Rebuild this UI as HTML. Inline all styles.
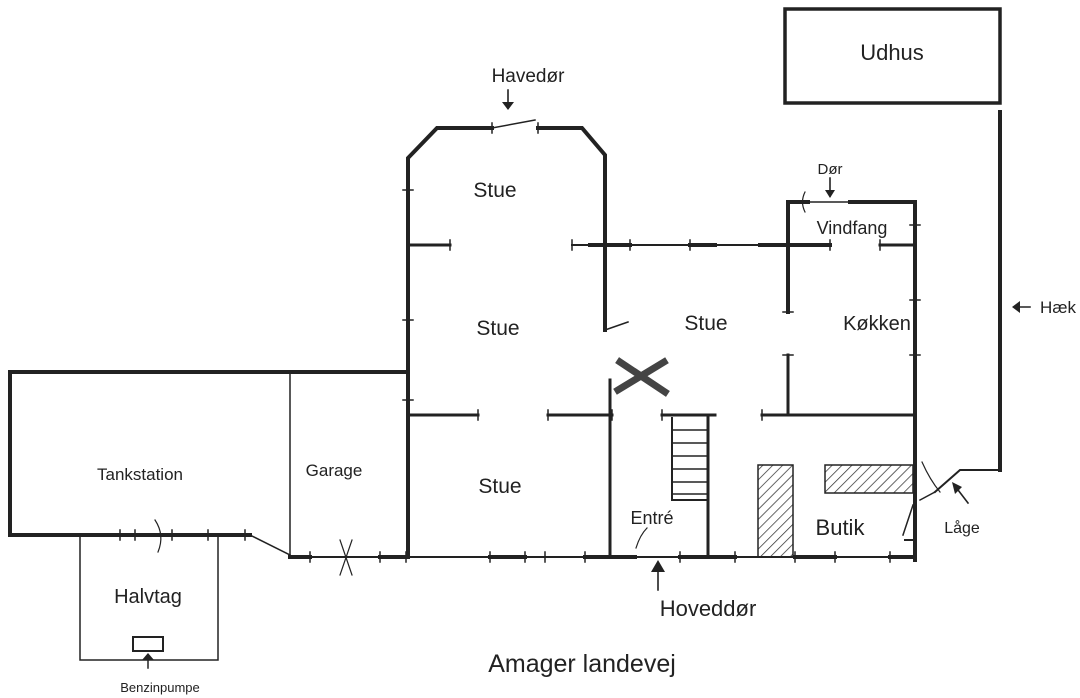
<!DOCTYPE html>
<html><head><meta charset="utf-8"><style>
html,body{margin:0;padding:0;background:#fff;}
svg{display:block}
text{font-family:"Liberation Sans",sans-serif;fill:#222;}
</style></head><body>
<svg width="1080" height="698" viewBox="0 0 1080 698" xmlns="http://www.w3.org/2000/svg">
<defs>
<pattern id="h" width="7" height="7" patternUnits="userSpaceOnUse" patternTransform="rotate(45)">
<line x1="0" y1="0" x2="0" y2="7" stroke="#333" stroke-width="1.5"/></pattern>
</defs>
<rect width="1080" height="698" fill="#fff"/>
<g stroke="#222" fill="none" stroke-linecap="square">
<rect x="785" y="9" width="215" height="94" stroke-width="3.5"/>
<path d="M1000 112 L1000 470" stroke-width="4" stroke-dasharray="4 2"/>
<path d="M1000 470 L960 470 L935 492" stroke-width="2"/>
<path d="M935 492 L920 500" stroke-width="1.5"/>
<path d="M922 462 Q930 480 940 492" stroke-width="1.2"/>
<path d="M408 557 L408 158 L437 128 L492 128" stroke-width="4"/>
<path d="M492 128 L535 120" stroke-width="1.5"/>
<path d="M538 128 L582 128 L605 155 L605 330" stroke-width="4"/>
<path d="M605 330 L628 322" stroke-width="1.5"/>
<path d="M572 245 L830 245" stroke-width="2"/>
<path d="M590 245 L630 245 M690 245 L715 245 M760 245 L830 245" stroke-width="4"/>
<path d="M880 245 L915 245" stroke-width="3"/>
<path d="M788 312 L788 202 L808 202 M850 202 L915 202 L915 560" stroke-width="4"/>
<path d="M808 202 L850 202" stroke-width="1.5"/>
<path d="M788 355 L788 415" stroke-width="3"/>
<path d="M408 245 L450 245" stroke-width="3"/>
<path d="M408 415 L478 415 M548 415 L612 415" stroke-width="3"/>
<path d="M662 415 L715 415 M762 415 L915 415" stroke-width="3"/>
<path d="M610 380 L610 557" stroke-width="3"/>
<path d="M708 415 L708 557" stroke-width="3"/>
<path d="M672 418 L672 500 L708 500" stroke-width="2"/>
<path d="M672 430 H708 M672 443 H708 M672 456 H708 M672 469 H708 M672 482 H708 M672 494 H708" stroke-width="1.5"/>
<path d="M290 557 L915 557" stroke-width="2"/>
<path d="M290 557 L310 557 M380 557 L408 557 M490 557 L525 557 M585 557 L635 557 M680 557 L735 557 M795 557 L835 557 M890 557 L915 557" stroke-width="4"/>
<path d="M915 540 L915 560" stroke-width="4"/>
<path d="M905 540 L915 540" stroke-width="2"/>
<path d="M903 535 L913 505" stroke-width="1.5"/>
<path d="M636 548 Q640 535 647 528" stroke-width="1.2"/>
<path d="M620 362 L665 392 M618 390 L664 362" stroke-width="7" stroke="#444"/>
<rect x="758" y="465" width="35" height="92" fill="url(#h)" stroke-width="1.5"/>
<rect x="825" y="465" width="88" height="28" fill="url(#h)" stroke-width="1.5"/>
<path d="M250 535 L10 535 L10 372 L408 372" stroke-width="4"/>
<path d="M250 535 L290 555" stroke-width="1.5"/>
<path d="M290 372 L290 557" stroke-width="1.5"/>
<path d="M155 520 Q165 535 158 552" stroke-width="1.2"/>
<path d="M340 540 L352 575 M352 540 L340 575" stroke-width="1.2"/>
<rect x="80" y="535" width="138" height="125" stroke-width="1.5"/>
<rect x="133" y="637" width="30" height="14" stroke-width="2"/>
<path d="M148 668 L148 655" stroke-width="1.5"/>
<path d="M120 530 V540 M135 530 V540 M172 530 V540 M208 530 V540 M245 530 V540 M310 552 V562 M380 552 V562 M406 552 V562 M490 552 V562 M525 552 V562 M545 552 V562 M585 552 V562 M680 552 V562 M735 552 V562 M795 552 V562 M835 552 V562 M890 552 V562 M450 240 V250 M572 240 V250 M630 240 V250 M690 240 V250 M830 240 V250 M880 240 V250 M478 410 V420 M548 410 V420 M612 410 V420 M662 410 V420 M762 410 V420 M783 312 H793 M783 355 H793 M910 225 H920 M910 300 H920 M910 355 H920 M403 190 H413 M403 320 H413 M403 400 H413 M492 123 V133 M538 123 V133" stroke-width="1.5"/>
<path d="M805 192 Q800 202 805 212" stroke-width="1.2"/>
<path d="M508 90 V108 M830 178 V196 M658 590 V568 M1030 307 H1015 M968 503 L955 486" stroke-width="1.6"/>
</g>
<g fill="#222">
<polygon points="502,102 514,102 508,110"/>
<polygon points="825,190 835,190 830,198"/>
<polygon points="651,572 665,572 658,560"/>
<polygon points="1020,301 1020,313 1012,307"/>
<polygon points="142,660 154,660 148,653"/>
<polygon points="952,482 962,487 955,494"/>
</g>
<text x="528" y="82" font-size="19" text-anchor="middle">Havedør</text>
<text x="892" y="60" font-size="22" text-anchor="middle">Udhus</text>
<text x="495" y="197" font-size="21" text-anchor="middle">Stue</text>
<text x="498" y="335" font-size="21" text-anchor="middle" fill="#555">Stue</text>
<text x="706" y="330" font-size="21" text-anchor="middle">Stue</text>
<text x="877" y="330" font-size="20" text-anchor="middle">Køkken</text>
<text x="830" y="174" font-size="15" text-anchor="middle">Dør</text>
<text x="852" y="234" font-size="18" text-anchor="middle">Vindfang</text>
<text x="500" y="493" font-size="21" text-anchor="middle" fill="#555">Stue</text>
<text x="652" y="524" font-size="18" text-anchor="middle">Entré</text>
<text x="840" y="535" font-size="22" text-anchor="middle">Butik</text>
<text x="962" y="533" font-size="16" text-anchor="middle">Låge</text>
<text x="1058" y="313" font-size="17" text-anchor="middle">Hæk</text>
<text x="708" y="616" font-size="22" text-anchor="middle">Hoveddør</text>
<text x="582" y="672" font-size="25" text-anchor="middle">Amager landevej</text>
<text x="140" y="480" font-size="17" text-anchor="middle">Tankstation</text>
<text x="334" y="476" font-size="17" text-anchor="middle">Garage</text>
<text x="148" y="603" font-size="20" text-anchor="middle">Halvtag</text>
<text x="160" y="692" font-size="13" text-anchor="middle">Benzinpumpe</text>
</svg>
</body></html>
